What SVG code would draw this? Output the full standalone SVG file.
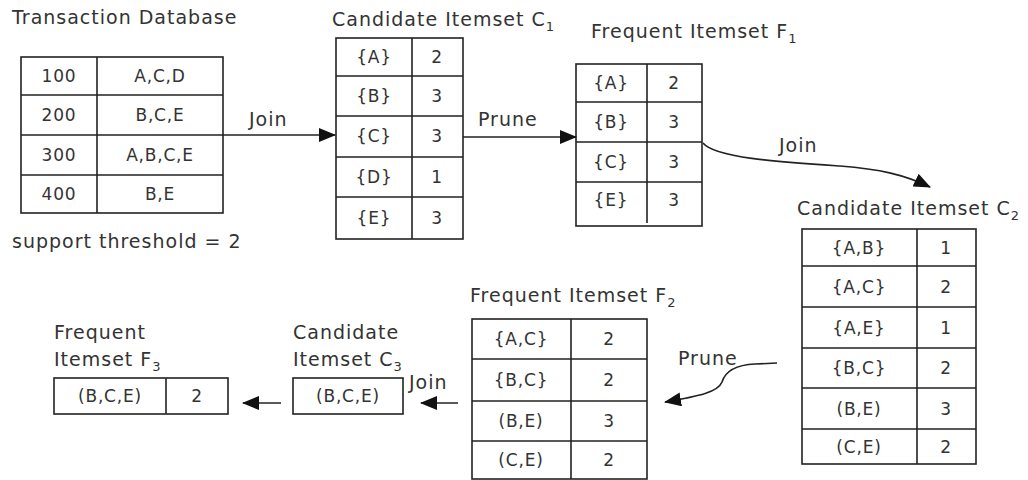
<svg xmlns="http://www.w3.org/2000/svg" width="1028" height="480" viewBox="0 0 1028 480">
<style>
.t{font-family:"DejaVu Sans",Verdana,sans-serif;font-size:19px;letter-spacing:1px;fill:#333}
.c{font-family:"DejaVu Sans",Verdana,sans-serif;font-size:17px;letter-spacing:0.8px;fill:#333;text-anchor:middle}
.sub{font-size:13px;letter-spacing:0}
.b{fill:#fff;stroke:#222;stroke-width:1.6}
.l{stroke:#222;stroke-width:1.6;fill:none}
.a{stroke:#222;stroke-width:1.6;fill:none;marker-end:url(#ah)}
</style>
<defs>
<marker id="ah" markerUnits="userSpaceOnUse" markerWidth="18" markerHeight="14" refX="16" refY="7" orient="auto">
<path d="M0,0 L17,7 L0,14 z" fill="#111"/>
</marker>
</defs>
<rect width="1028" height="480" fill="#fff"/>

<g id="transactions">
<text class="t" x="12" y="24">Transaction Database</text>
<rect class="b" x="21" y="57" width="202" height="156"/>
<path class="l" d="M97,57 V213 M21,95 H223 M21,135 H223 M21,175 H223"/>
<text class="c" x="59" y="82">100</text><text class="c" x="160" y="82">A,C,D</text>
<text class="c" x="59" y="121">200</text><text class="c" x="160" y="121">B,C,E</text>
<text class="c" x="59" y="161">300</text><text class="c" x="160" y="161">A,B,C,E</text>
<text class="c" x="59" y="200">400</text><text class="c" x="160" y="200">B,E</text>
<text class="t" x="12" y="248">support threshold = 2</text>
</g>

<g id="c1">
<text class="t" x="332" y="26">Candidate Itemset C<tspan class="sub" dy="5">1</tspan></text>
<rect class="b" x="336" y="38" width="127" height="201"/>
<path class="l" d="M412,38 V239 M336,76 H463 M336,116 H463 M336,157 H463 M336,197 H463"/>
<text class="c" x="374" y="63">{A}</text><text class="c" x="437" y="63">2</text>
<text class="c" x="374" y="102">{B}</text><text class="c" x="437" y="102">3</text>
<text class="c" x="374" y="142">{C}</text><text class="c" x="437" y="142">3</text>
<text class="c" x="374" y="183">{D}</text><text class="c" x="437" y="183">1</text>
<text class="c" x="374" y="224">{E}</text><text class="c" x="437" y="224">3</text>
</g>

<g id="f1">
<text class="t" x="591" y="38">Frequent Itemset F<tspan class="sub" dy="5">1</tspan></text>
<rect class="b" x="576" y="64" width="126" height="162"/>
<path class="l" d="M647,64 V223 M576,102 H702 M576,142 H702 M576,182 H702"/>
<text class="c" x="611" y="89">{A}</text><text class="c" x="674" y="89">2</text>
<text class="c" x="611" y="128">{B}</text><text class="c" x="674" y="128">3</text>
<text class="c" x="611" y="168">{C}</text><text class="c" x="674" y="168">3</text>
<text class="c" x="611" y="206">{E}</text><text class="c" x="674" y="206">3</text>
</g>

<g id="c2">
<text class="t" x="797" y="215">Candidate Itemset C<tspan class="sub" dy="5">2</tspan></text>
<rect class="b" x="802" y="229" width="174" height="235"/>
<path class="l" d="M917,229 V464 M802,266 H976 M802,307 H976 M802,348 H976 M802,388 H976 M802,429 H976"/>
<text class="c" x="859" y="254">{A,B}</text><text class="c" x="946" y="254">1</text>
<text class="c" x="859" y="293">{A,C}</text><text class="c" x="946" y="293">2</text>
<text class="c" x="859" y="334">{A,E}</text><text class="c" x="946" y="334">1</text>
<text class="c" x="859" y="374">{B,C}</text><text class="c" x="946" y="374">2</text>
<text class="c" x="859" y="415">(B,E)</text><text class="c" x="946" y="415">3</text>
<text class="c" x="859" y="453">(C,E)</text><text class="c" x="946" y="453">2</text>
</g>

<g id="f2">
<text class="t" x="470" y="302">Frequent Itemset F<tspan class="sub" dy="5">2</tspan></text>
<rect class="b" x="472" y="319" width="175" height="160"/>
<path class="l" d="M571,319 V479 M472,359 H647 M472,401 H647 M472,441 H647"/>
<text class="c" x="521" y="345">{A,C}</text><text class="c" x="609" y="345">2</text>
<text class="c" x="521" y="386">{B,C}</text><text class="c" x="609" y="386">2</text>
<text class="c" x="521" y="427">(B,E)</text><text class="c" x="609" y="427">3</text>
<text class="c" x="521" y="466">(C,E)</text><text class="c" x="609" y="466">2</text>
</g>

<g id="c3">
<text class="t" x="293" y="339">Candidate</text>
<text class="t" x="293" y="366">Itemset C<tspan class="sub" dy="5">3</tspan></text>
<rect class="b" x="293" y="378" width="110" height="36"/>
<text class="c" x="348" y="402">(B,C,E)</text>
</g>

<g id="f3">
<text class="t" x="54" y="339">Frequent</text>
<text class="t" x="54" y="366">Itemset F<tspan class="sub" dy="5">3</tspan></text>
<rect class="b" x="54" y="378" width="174" height="36"/>
<path class="l" d="M166,378 V414"/>
<text class="c" x="110" y="402">(B,C,E)</text><text class="c" x="197" y="402">2</text>
</g>

<g id="connectors">
<path class="a" d="M223,135 H335"/>
<text class="t" x="249" y="126">Join</text>
<path class="a" d="M463,137 H576"/>
<text class="t" x="478" y="126">Prune</text>
<path class="a" d="M703,143 C715,158 780,162 840,166 C880,169 905,175 930,187"/>
<text class="t" x="779" y="152">Join</text>
<path class="a" d="M777,363 L755,364 C735,365 725,372 722,382 C718,392 700,396 665,402"/>
<text class="t" x="678" y="365">Prune</text>
<path class="a" d="M458,403 H421"/>
<text class="t" x="409" y="389">Join</text>
<path class="a" d="M281,403 H243"/>
</g>
</svg>
